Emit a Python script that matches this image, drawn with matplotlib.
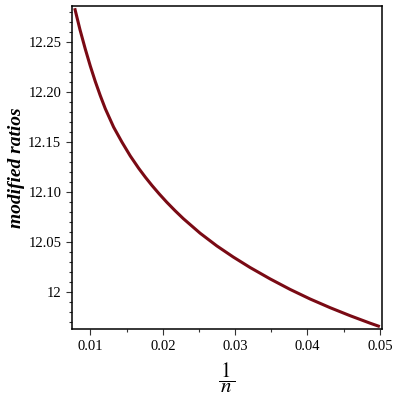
import matplotlib
matplotlib.use('Agg')
import matplotlib.pyplot as plt
from matplotlib.ticker import MultipleLocator

# values (x = 1/n)
inv_n = [0.00782, 0.00855, 0.00928, 0.00997, 0.01066, 0.01135, 0.01205,
         0.01320, 0.01436, 0.01550, 0.01667, 0.01759, 0.01851, 0.01952,
         0.02054, 0.02169, 0.02284, 0.02515, 0.02746, 0.02975, 0.03206,
         0.03483, 0.03759, 0.04036, 0.04313, 0.04589, 0.04866, 0.05000]
ratios = [12.2842, 12.2627, 12.2434, 12.2265, 12.2110, 12.1969, 12.1837,
          12.1653, 12.1502, 12.1365, 12.1241, 12.1152, 12.1069, 12.0984,
          12.0903, 12.0818, 12.0738, 12.0593, 12.0466, 12.0354, 12.0250,
          12.0136, 12.0031, 11.9935, 11.9848, 11.9768, 11.9693, 11.9659]

xticks = [0.01, 0.02, 0.03, 0.04, 0.05]
xtick_labels = ['0.01', '0.02', '0.03', '0.04', '0.05']
yticks = [12.0, 12.05, 12.10, 12.15, 12.20, 12.25]
ytick_labels = ['12', '12.05', '12.10', '12.15', '12.20', '12.25']

plt.rcParams['font.family'] = ['Liberation Serif', 'DejaVu Serif']
plt.rcParams['mathtext.fontset'] = 'stix'

fig = plt.figure(figsize=(4, 4), dpi=100)
ax = fig.add_axes([0.181, 0.1775, 0.774, 0.8065])

ax.plot(inv_n, ratios, color='#7a0a14', linewidth=2.2,
        solid_joinstyle='round', solid_capstyle='butt')

ax.set_xlim(0.0075, 0.0503)
ax.set_ylim(11.9635, 12.286)

ax.set_xticks(xticks)
ax.set_xticklabels(xtick_labels)
ax.set_yticks(yticks)
ax.set_yticklabels(ytick_labels)
ax.xaxis.set_minor_locator(MultipleLocator(0.005))
ax.yaxis.set_minor_locator(MultipleLocator(0.01))

ax.tick_params(which='both', direction='out', top=False, right=False,
               labelsize=10.5, width=0.8, color='#333333')
ax.tick_params(which='major', length=4, pad=4)
ax.tick_params(which='minor', length=2.5)

for s in ax.spines.values():
    s.set_linewidth(1.1)
    s.set_color('black')

ax.set_ylabel('modified ratios', fontsize=14, fontstyle='italic',
              fontweight='bold', labelpad=2)
ax.set_xlabel(r'$\dfrac{\,1\,}{\,n\,}$', fontsize=15, labelpad=5)

fig.savefig('out.png', dpi=100)
